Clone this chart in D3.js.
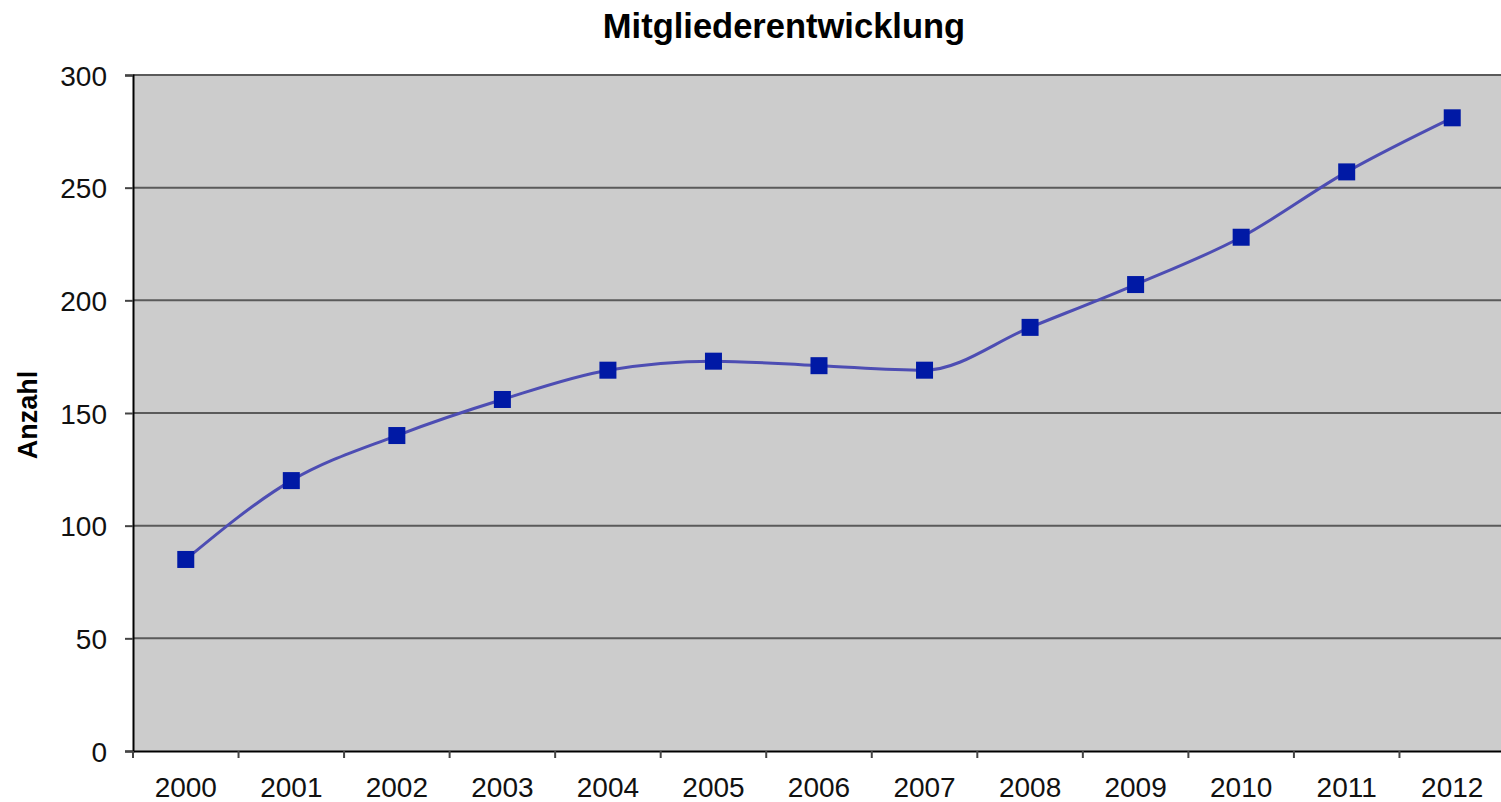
<!DOCTYPE html>
<html>
<head>
<meta charset="utf-8">
<script src="https://cdn.jsdelivr.net/npm/d3@7/dist/d3.min.js"></script>
<style>
  body { margin: 0; background: #fff; }
  svg { display: block; font-family: "Liberation Sans", Arial, sans-serif; }
</style>
</head>
<body>
<div id="chart"></div>
<script>
// data
const years = ["2000", "2001", "2002", "2003", "2004", "2005", "2006", "2007", "2008", "2009", "2010", "2011", "2012"];
const members = [85, 120, 140, 156, 169, 173, 171, 169, 188, 207, 228, 257, 281];
const yTicks = [0, 50, 100, 150, 200, 250, 300];

const width = 1501, height = 802;
const margin = { top: 75, right: -4, bottom: 51, left: 133 };

const svg = d3.select("#chart").append("svg")
    .attr("width", width)
    .attr("height", height);

const x = d3.scaleBand()
    .domain(years)
    .range([margin.left, width - margin.right])
    .padding(0);

const y = d3.scaleLinear()
    .domain([0, 300])
    .range([height - margin.bottom, margin.top]);

// plot background
svg.append("rect")
    .attr("x", margin.left)
    .attr("y", margin.top)
    .attr("width", width - margin.right - margin.left)
    .attr("height", y(0) - margin.top)
    .attr("fill", "#cccccc");

// horizontal gridlines
svg.append("g")
    .selectAll("line")
    .data(yTicks.filter(d => d > 0))
    .join("line")
    .attr("x1", margin.left)
    .attr("x2", width)
    .attr("y1", d => y(d))
    .attr("y2", d => y(d))
    .attr("stroke", "#5a5a5a")
    .attr("stroke-width", 2);

// y axis
const yAxis = svg.append("g")
    .attr("transform", `translate(${margin.left},0)`)
    .call(d3.axisLeft(y).tickValues(yTicks).tickSize(8).tickPadding(18));
yAxis.select(".domain").attr("stroke", "#000").attr("stroke-width", 2);
yAxis.selectAll(".tick line").attr("stroke", "#444").attr("stroke-width", 2);
yAxis.selectAll("text")
    .attr("font-size", 28)
    .attr("fill", "#111")
    .attr("x", -26)
    .attr("dy", "0.36em");

// x axis with ticks at category boundaries
const xAxis = svg.append("g")
    .attr("transform", `translate(0,${y(0)})`)
    .call(d3.axisBottom(x).tickSize(0).tickPadding(0));
xAxis.select(".domain").attr("stroke", "#000").attr("stroke-width", 2);
xAxis.selectAll("text")
    .attr("font-size", 28)
    .attr("fill", "#111")
    .attr("y", 46)
    .attr("dy", 0);

svg.append("g")
    .selectAll("line")
    .data(years)
    .join("line")
    .attr("x1", d => x(d))
    .attr("x2", d => x(d))
    .attr("y1", y(0))
    .attr("y2", y(0) + 7)
    .attr("stroke", "#444")
    .attr("stroke-width", 2);

// series line
const line = d3.line()
    .x((d, i) => x(years[i]) + x.bandwidth() / 2)
    .y(d => y(d))
    .curve(d3.curveMonotoneX);

svg.append("path")
    .datum(members)
    .attr("d", line)
    .attr("fill", "none")
    .attr("stroke", "#4d4db3")
    .attr("stroke-width", 3);

// square markers
const s = 17;
svg.append("g")
    .selectAll("rect")
    .data(members)
    .join("rect")
    .attr("x", (d, i) => x(years[i]) + x.bandwidth() / 2 - s / 2)
    .attr("y", d => y(d) - s / 2)
    .attr("width", s)
    .attr("height", s)
    .attr("fill", "#0019a5");

// title
svg.append("text")
    .attr("x", 784)
    .attr("y", 38)
    .attr("text-anchor", "middle")
    .attr("font-size", 34.5)
    .attr("font-weight", "bold")
    .text("Mitgliederentwicklung");

// y axis title
svg.append("text")
    .attr("transform", `translate(37,415) rotate(-90)`)
    .attr("text-anchor", "middle")
    .attr("font-size", 27)
    .attr("font-weight", "bold")
    .text("Anzahl");
</script>
</body>
</html>
